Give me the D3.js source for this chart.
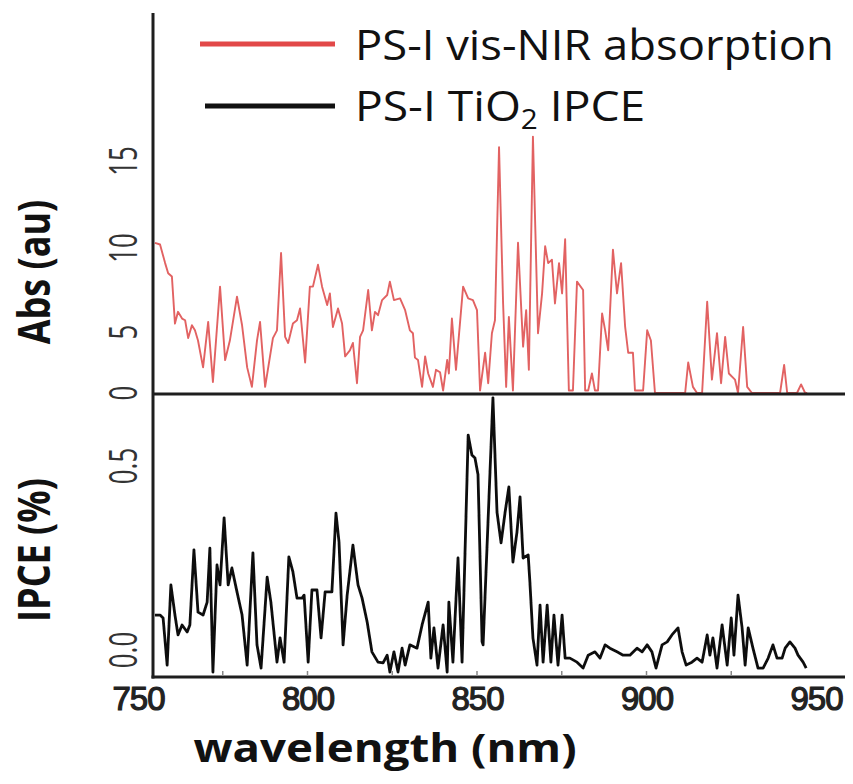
<!DOCTYPE html>
<html>
<head>
<meta charset="utf-8">
<script src="https://cdn.jsdelivr.net/npm/d3@7"></script>
<style>
  body { margin: 0; background: #fff; }
  svg { display: block; }
</style>
</head>
<body>
<div id="chart"></div>
<script>
// wavelength (nm) and absorbance (au)
var absWavelength = [755.0, 756.5, 758.0, 758.9, 760.0, 760.9, 761.8, 763.0, 763.9, 764.8, 765.9, 766.8, 767.7, 769.2, 770.7, 772.1, 774.2, 775.7, 777.1, 779.2,
    780.7, 782.2, 783.6, 785.1, 786.0, 787.5, 789.8, 791.0, 792.2, 793.4, 794.3, 795.7, 796.9, 797.8, 799.3, 800.7, 801.6, 803.1, 804.3, 805.8,
    806.6, 807.5, 809.0, 810.2, 811.1, 812.5, 813.4, 814.6, 815.5, 816.4, 817.9, 819.0, 819.9, 820.8, 822.0, 823.5, 824.3, 825.5, 827.3, 828.8,
    830.2, 831.1, 831.7, 832.6, 833.8, 834.7, 835.6, 837.0, 837.9, 839.1, 840.0, 841.2, 841.7, 842.6, 843.8, 845.9, 847.4, 848.8, 850.0, 850.9,
    852.4, 853.3, 854.4, 855.3, 856.5, 857.7, 858.6, 859.4, 860.6, 862.1, 863.6, 864.5, 865.3, 866.5, 868.0, 869.2, 870.1, 871.0, 872.1, 873.0,
    874.2, 875.1, 876.0, 877.1, 878.3, 879.5, 881.3, 881.9, 882.8, 883.9, 884.8, 885.7, 886.9, 887.8, 888.7, 890.1, 891.3, 892.5, 893.7, 894.6,
    896.0, 896.6, 899.0, 900.2, 901.3, 902.5, 911.4, 912.3, 913.7, 914.9, 916.4, 917.9, 919.3, 920.8, 922.0, 923.2, 924.3, 926.1, 927.0, 928.5,
    929.7, 931.1, 939.4, 940.6, 941.5, 944.4, 945.6, 946.8, 947.4];
var absValues = [10.3, 10.2, 9.1, 8.5, 8.3, 5.5, 6.2, 5.8, 5.7, 4.5, 5.4, 5.1, 4.3, 2.1, 5.6, 0.9, 7.7, 2.7, 4.3, 7.1,
    5.4, 2.1, 0.5, 4.3, 5.6, 0.5, 4.5, 5.1, 9.7, 4.6, 4.1, 5.5, 5.7, 6.4, 2.5, 7.7, 7.7, 9.0, 7.7, 6.6,
    7.3, 5.3, 6.4, 5.5, 3.0, 3.5, 4.1, 0.8, 4.6, 5.1, 7.5, 5.1, 6.2, 6.0, 6.9, 7.2, 8.0, 6.9, 7.0, 6.3,
    5.1, 4.9, 2.9, 2.7, 0.5, 3.0, 1.6, 0.5, 1.9, 1.7, 0.2, 2.7, 1.6, 5.8, 1.9, 7.7, 7.0, 6.9, 6.3, 0.2,
    3.3, 0.8, 4.9, 5.7, 15.8, 6.7, 0.5, 5.9, 0.2, 10.3, 3.8, 6.3, 1.9, 16.4, 4.9, 7.3, 10.1, 9.1, 9.3, 6.7,
    9.1, 7.3, 10.5, 0.2, 0.2, 8.0, 7.5, 0.2, 0.2, 1.6, 0.2, 0.2, 6.1, 5.1, 3.5, 9.9, 7.3, 9.1, 5.3, 3.3,
    3.3, 0.2, 0.2, 5.1, 4.3, 0, 0, 2.5, 0.5, 0, 0, 6.8, 1.1, 4.9, 0.8, 4.6, 1.6, 1.1, 0, 5.3,
    0.5, 0, 0, 2.3, 0, 0, 0.7, 0, 0];

// wavelength (nm) and IPCE (%)
var ipceWavelength = [755.0, 756.5, 757.4, 758.6, 759.7, 760.9, 761.8, 763.0, 764.5, 765.3, 766.5, 767.7, 769.2, 770.4, 771.2, 772.1, 773.3, 774.2, 775.4, 776.6,
    777.7, 779.2, 780.7, 782.2, 783.9, 785.1, 786.3, 788.1, 789.2, 791.0, 791.9, 793.1, 794.5, 795.7, 796.9, 798.4, 799.0, 800.2, 801.3, 802.8,
    804.0, 805.2, 807.2, 808.4, 809.3, 810.5, 811.7, 813.4, 814.9, 816.1, 817.6, 819.0, 820.8, 822.3, 823.5, 824.3, 825.5, 826.7, 827.9, 828.8,
    830.2, 832.3, 833.8, 835.6, 836.4, 837.3, 838.5, 840.0, 841.2, 841.7, 842.9, 844.4, 845.6, 847.4, 848.5, 849.4, 850.3, 851.5, 851.8, 853.3,
    854.7, 855.9, 857.1, 858.3, 859.4, 860.6, 861.8, 862.7, 863.6, 865.1, 865.6, 866.5, 867.7, 868.6, 869.5, 870.7, 871.8, 872.7, 873.9, 875.1,
    876.0, 877.4, 879.5, 881.3, 882.8, 884.8, 886.3, 887.8, 889.2, 891.3, 893.1, 895.1, 897.2, 898.7, 900.2, 901.6, 902.8, 904.6, 906.1, 907.5,
    909.3, 910.5, 911.7, 913.4, 914.9, 916.4, 917.9, 918.7, 919.6, 920.8, 922.3, 923.8, 925.0, 925.8, 927.0, 928.2, 929.1, 930.0, 931.4, 932.9,
    934.4, 935.9, 937.3, 938.5, 940.0, 940.9, 942.3, 943.8, 944.7, 946.2, 947.1];
var ipceValues = [0.095, 0.095, 0.087, -0.041, 0.177, 0.095, 0.041, 0.068, 0.049, 0.068, 0.272, 0.103, 0.095, 0.130, 0.277, -0.060, 0.231, 0.177, 0.359, 0.177,
    0.223, 0.158, 0.095, -0.041, 0.264, 0.014, -0.049, 0.198, 0.130, -0.033, 0.033, -0.033, 0.253, 0.212, 0.141, 0.141, 0.149, -0.033, 0.163, 0.163,
    0.033, 0.158, 0.158, 0.372, 0.293, 0.014, 0.149, 0.285, 0.177, 0.141, 0.076, -0.005, -0.033, -0.035, -0.014, -0.060, -0.005, -0.060, 0.005, -0.041,
    0.014, 0.005, 0.068, 0.130, -0.022, 0.060, -0.049, 0.068, -0.060, 0.130, -0.033, 0.250, -0.033, 0.584, 0.530, 0.522, 0.476, 0.022, 0.014, 0.359,
    0.685, 0.375, 0.291, 0.375, 0.443, 0.239, 0.321, 0.416, 0.250, 0.258, 0.185, 0.033, -0.041, 0.122, -0.033, 0.122, -0.033, 0.095, -0.041, 0.095,
    -0.022, -0.022, -0.033, -0.049, -0.014, -0.005, -0.022, 0.014, 0.005, -0.005, -0.014, -0.014, 0.005, -0.005, 0.014, -0.005, -0.049, 0.014, 0.022, 0.041,
    0.060, -0.005, -0.041, -0.033, -0.022, -0.033, 0.041, -0.014, 0.033, -0.049, 0.068, -0.041, 0.087, -0.014, 0.149, 0.060, -0.041, 0.060, 0.005, -0.049,
    -0.049, -0.022, 0.014, -0.022, -0.022, 0.005, 0.022, 0.005, -0.014, -0.033, -0.049];

var xTicks = [750, 800, 850, 900, 950];
var xMinorTicks = [775, 800, 825, 850, 875, 900, 925];
var absTicks = [0, 5, 10, 15];
var ipceTicks = [0, 0.5];
var legendLabels = ["PS-I vis-NIR absorption", "PS-I TiO"];

var w = 853;
var h = 784;
var left = 153, right = 845;
var midY = 394, bottomY = 677, topY = 13;

var svg = d3.select("#chart").append("svg").attr("width", w).attr("height", h);

var x = d3.scaleLinear().domain([750, 950]).range([138, 816]);
// tick labels in the figure are unevenly spaced, so the scales are piecewise
var yAbs = d3.scaleLinear().domain([0, 5, 10, 15]).range([393, 332, 248, 161]);
var yIpce = d3.scaleLinear().domain([0, 0.5]).range([650, 466]);

var absData = absWavelength.map(function (d, i) { return [d, absValues[i]]; });
var ipceData = ipceWavelength.map(function (d, i) { return [d, ipceValues[i]]; });

var defs = svg.append("defs");
defs.append("filter").attr("id", "soft")
    .attr("x", "-5%").attr("y", "-5%").attr("width", "110%").attr("height", "110%")
    .append("feGaussianBlur").attr("stdDeviation", 0.45);

// red absorption trace
var absLine = d3.line().x(function (d) { return x(d[0]); }).y(function (d) { return yAbs(d[1]); });
svg.append("path")
    .datum(absData)
    .attr("d", absLine)
    .attr("fill", "none")
    .attr("stroke", "#e26262")
    .attr("stroke-width", 1.9)
    .attr("stroke-linejoin", "round")
    .attr("filter", "url(#soft)");

// black IPCE trace
var ipceLine = d3.line().x(function (d) { return x(d[0]); }).y(function (d) { return yIpce(d[1]); });
svg.append("path")
    .datum(ipceData)
    .attr("d", ipceLine)
    .attr("fill", "none")
    .attr("stroke", "#111")
    .attr("stroke-width", 2.8)
    .attr("stroke-linejoin", "round")
    .attr("filter", "url(#soft)");

// frame lines
var frame = svg.append("g").attr("stroke", "#1e1e1e").attr("stroke-width", 3).attr("fill", "none");
frame.append("line").attr("x1", left).attr("x2", left).attr("y1", topY).attr("y2", bottomY + 1.5);
frame.append("line").attr("x1", left).attr("x2", right).attr("y1", midY).attr("y2", midY);
frame.append("line").attr("x1", left - 1.5).attr("x2", right).attr("y1", bottomY).attr("y2", bottomY);

// little inward ticks on the wavelength axis
svg.append("g").selectAll("line")
    .data(xMinorTicks)
    .enter()
    .append("line")
    .attr("x1", function (d) { return x(d); })
    .attr("x2", function (d) { return x(d); })
    .attr("y1", bottomY - 2)
    .attr("y2", bottomY - 6)
    .attr("stroke", "#888")
    .attr("stroke-width", 1.5);

// wavelength tick labels
var xAxis = d3.axisBottom(x).tickValues(xTicks).tickSize(0).tickPadding(0);
var xg = svg.append("g").attr("transform", "translate(0," + 710 + ")").call(xAxis);
xg.select(".domain").remove();
xg.selectAll("text")
    .attr("dy", 0)
    .attr("font-family", "Liberation Sans, Arial, sans-serif")
    .attr("font-size", "33px")
    .attr("fill", "#222")
    .attr("stroke", "#222")
    .attr("stroke-width", 1.2)
    .attr("letter-spacing", "-1px");

// rotated y tick labels
function yLabels(ticks, scale, fmt) {
    svg.append("g").selectAll("text")
        .data(ticks)
        .enter()
        .append("text")
        .attr("transform", function (d) {
            return "translate(137," + scale(d) + ") rotate(-90) scale(0.72,1.05)";
        })
        .attr("text-anchor", "middle")
        .attr("font-family", "Open Sans, sans-serif")
        .attr("font-size", "36px")
        .attr("fill", "#333")
        .text(fmt);
}
yLabels(absTicks, yAbs, function (d) { return d; });
yLabels(ipceTicks, yIpce, function (d) { return d.toFixed(1); });

// axis titles
function yTitle(label, cy) {
    svg.append("text")
        .attr("transform", "translate(50," + cy + ") rotate(-90) scale(1,1.25)")
        .attr("text-anchor", "middle")
        .attr("font-family", "Open Sans, sans-serif")
        .attr("font-weight", "bold")
        .attr("font-size", "36px")
        .attr("fill", "#111")
        .text(label);
}
yTitle("Abs (au)", 272);
yTitle("IPCE (%)", 550);

svg.append("text")
    .attr("transform", "translate(385,762) scale(1.14,1)")
    .attr("text-anchor", "middle")
    .attr("font-family", "Open Sans, sans-serif")
    .attr("font-weight", "bold")
    .attr("font-size", "40px")
    .attr("fill", "#111")
    .text("wavelength (nm)");

// legend
svg.append("line").attr("x1", 200).attr("x2", 335).attr("y1", 44).attr("y2", 44)
    .attr("stroke", "#e24848").attr("stroke-width", 5);
svg.append("line").attr("x1", 205).attr("x2", 335).attr("y1", 106).attr("y2", 106)
    .attr("stroke", "#111").attr("stroke-width", 5);

svg.append("text")
    .attr("transform", "translate(355,60) scale(1.08,1)")
    .attr("font-family", "Open Sans, sans-serif")
    .attr("font-size", "42px")
    .attr("fill", "#111")
    .text(legendLabels[0]);

var leg2 = svg.append("text")
    .attr("transform", "translate(355,121) scale(1.1,1)")
    .attr("font-family", "Open Sans, sans-serif")
    .attr("font-size", "42px")
    .attr("fill", "#111");
leg2.append("tspan").text(legendLabels[1]);
leg2.append("tspan").attr("dy", 8).attr("font-size", "27px").text("2");
leg2.append("tspan").attr("dy", -8).text(" IPCE");
</script>
</body>
</html>
